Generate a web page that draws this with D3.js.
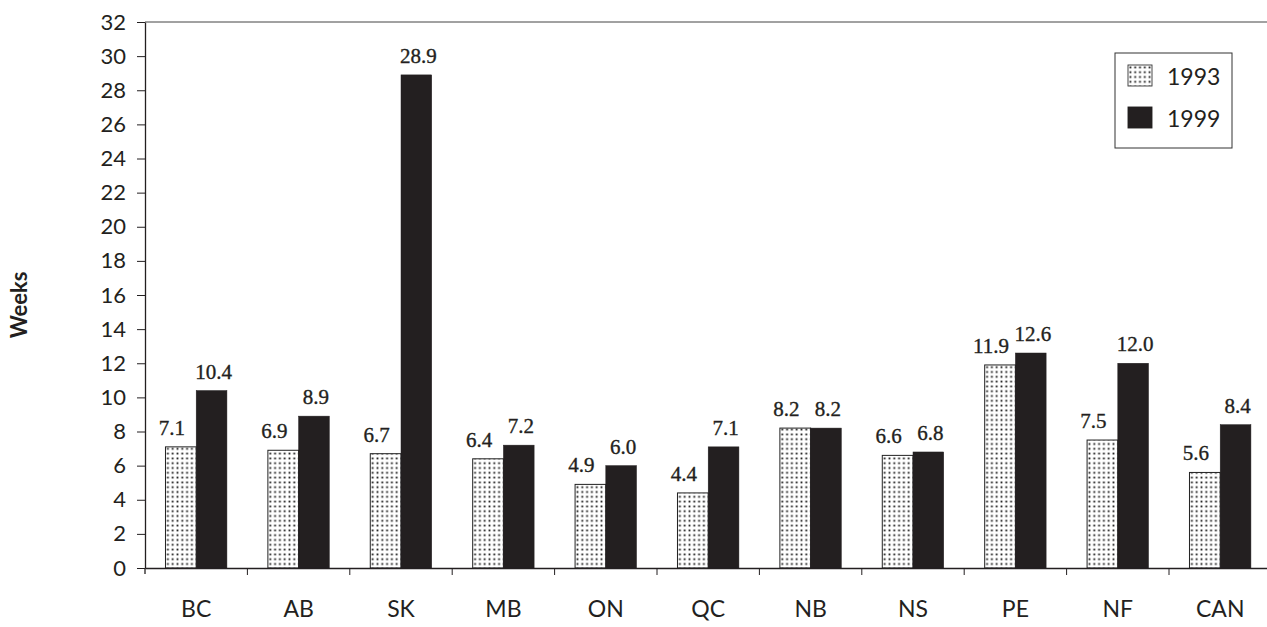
<!DOCTYPE html>
<html>
<head>
<meta charset="utf-8">
<script src="https://cdn.jsdelivr.net/npm/d3@7"></script>
<style>
  html, body { margin: 0; padding: 0; background: #fff; }
  svg { display: block; }
</style>
</head>
<body>
<svg id="chart" width="1267" height="627"></svg>
<script>
const categories = ["BC", "AB", "SK", "MB", "ON", "QC", "NB", "NS", "PE", "NF", "CAN"];
const series = ["1993", "1999"];
const values1993 = [7.1, 6.9, 6.7, 6.4, 4.9, 4.4, 8.2, 6.6, 11.9, 7.5, 5.6];
const values1999 = [10.4, 8.9, 28.9, 7.2, 6.0, 7.1, 8.2, 6.8, 12.6, 12.0, 8.4];
const valueLabels1993 = ["7.1", "6.9", "6.7", "6.4", "4.9", "4.4", "8.2", "6.6", "11.9", "7.5", "5.6"];
const valueLabels1999 = ["10.4", "8.9", "28.9", "7.2", "6.0", "7.1", "8.2", "6.8", "12.6", "12.0", "8.4"];
const yTicks = [0, 2, 4, 6, 8, 10, 12, 14, 16, 18, 20, 22, 24, 26, 28, 30, 32];
const yTitle = "Weeks";

(function () {
const svg = d3.select("#chart");
const ink = "#231f20";
const mLeft = 145, mTop = 22, mBottom = 568;
const step = 102.4;
const mRight = mLeft + categories.length * step;

const defs = svg.append("defs");
const pat = defs.append("pattern")
  .attr("id", "dots").attr("patternUnits", "userSpaceOnUse")
  .attr("width", 4.8).attr("height", 4.8);
pat.append("rect").attr("width", 4.8).attr("height", 4.8).attr("fill", "#fff");
pat.append("rect").attr("x", 1.5).attr("y", 1.5).attr("width", 1.8).attr("height", 1.8).attr("fill", "#1a1a1a");

const y = d3.scaleLinear().domain([0, 32]).range([mBottom, mTop]);
const x0 = d3.scaleBand().domain(categories).range([mLeft, mRight])
  .paddingInner(0.4).paddingOuter(0.2);
const x1 = d3.scaleBand().domain(series).range([0, x0.bandwidth()]);
const fills = {"1993": "url(#dots)", "1999": ink};

const rows = categories.map((c, i) => ({
  cat: c,
  vals: [
    {s: "1993", v: values1993[i], lab: valueLabels1993[i]},
    {s: "1999", v: values1999[i], lab: valueLabels1999[i]}
  ]
}));

// top frame line
svg.append("line").attr("x1", mLeft).attr("x2", mRight).attr("y1", mTop).attr("y2", mTop)
  .attr("stroke", "#444").attr("stroke-width", 1);

// y axis
const yAxis = svg.append("g").attr("transform", `translate(${mLeft},0)`)
  .call(d3.axisLeft(y).tickValues(yTicks).tickSize(8).tickPadding(11).tickSizeOuter(0));
yAxis.select(".domain").attr("stroke", ink).attr("stroke-width", 1.3);
yAxis.selectAll(".tick line").attr("stroke", ink);
yAxis.selectAll("text").attr("font-family", "Lato, 'Open Sans', sans-serif")
  .attr("font-size", 22).attr("fill", ink);
svg.append("line").attr("x1", mLeft).attr("x2", mLeft).attr("y1", mBottom).attr("y2", mBottom + 6)
  .attr("stroke", ink).attr("stroke-width", 1.3);

// bars
const groups = svg.append("g").selectAll("g").data(rows).join("g")
  .attr("transform", d => `translate(${x0(d.cat)},0)`);
groups.selectAll("rect").data(d => d.vals).join("rect")
  .attr("x", d => x1(d.s))
  .attr("y", d => y(d.v))
  .attr("width", x1.bandwidth())
  .attr("height", d => y(0) - y(d.v))
  .attr("fill", d => fills[d.s])
  .attr("stroke", d => d.s === "1993" ? "#222" : ink)
  .attr("stroke-width", d => d.s === "1993" ? 1 : 0.5);
groups.selectAll("text").data(d => d.vals).join("text")
  .attr("x", d => x1(d.s) + x1.bandwidth() / 2 + (d.s === "1993" ? -9 : 2))
  .attr("y", d => y(d.v) - 12)
  .attr("text-anchor", "middle")
  .attr("font-family", "'Liberation Serif', serif")
  .attr("font-size", 21)
  .attr("fill", ink)
  .attr("stroke", ink).attr("stroke-width", 0.35)
  .text(d => d.lab);

// x axis
const xAxis = svg.append("g").attr("transform", `translate(0,${mBottom})`)
  .call(d3.axisBottom(x0).tickSize(0).tickPadding(33).tickSizeOuter(0));
xAxis.select(".domain").attr("stroke", ink).attr("stroke-width", 1.3);
xAxis.selectAll("text").attr("font-family", "Lato, 'Open Sans', sans-serif")
  .attr("font-size", 23).attr("fill", ink);
svg.append("g").selectAll("line").data(categories.slice(1)).join("line")
  .attr("x1", d => x0(d) - x0.step() * x0.paddingInner() / 2)
  .attr("x2", d => x0(d) - x0.step() * x0.paddingInner() / 2)
  .attr("y1", mBottom).attr("y2", mBottom + 7)
  .attr("stroke", ink).attr("stroke-width", 1);

// y title
svg.append("text")
  .attr("transform", `translate(27,305) rotate(-90)`)
  .attr("text-anchor", "middle")
  .attr("font-family", "Lato, 'Open Sans', sans-serif")
  .attr("font-weight", "bold")
  .attr("font-size", 22)
  .attr("fill", ink)
  .text(yTitle);

// legend
const lg = svg.append("g");
lg.append("rect").attr("x", 1115).attr("y", 53).attr("width", 117).attr("height", 95)
  .attr("fill", "#fff").attr("stroke", "#333").attr("stroke-width", 1);
const li = lg.selectAll("g").data(series).join("g")
  .attr("transform", (d, i) => `translate(1128,${65 + i * 42})`);
li.append("rect").attr("width", 24).attr("height", 21)
  .attr("fill", d => fills[d]).attr("stroke", d => d === "1993" ? "#333" : ink).attr("stroke-width", 0.9);
li.append("text").attr("x", 39).attr("y", 20)
  .attr("font-family", "Lato, 'Open Sans', sans-serif")
  .attr("font-size", 23).attr("fill", ink)
  .text(d => d);
})();
</script>
</body>
</html>
